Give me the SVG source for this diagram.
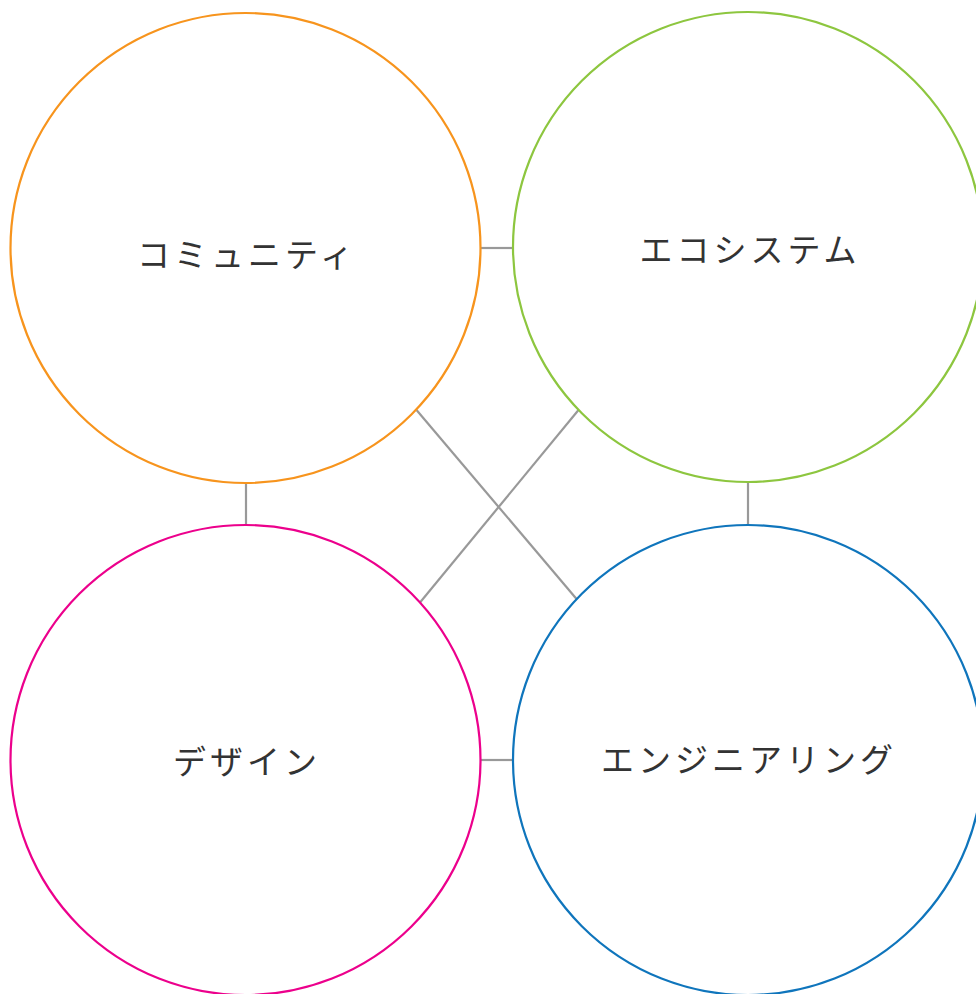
<svg xmlns="http://www.w3.org/2000/svg" width="976" height="994" viewBox="0 0 976 994">
<style>
.c{fill:#fff;stroke-width:2.2}
.l{stroke:#999;stroke-width:2.2;fill:none}
.t{font-family:"Noto Sans CJK JP","Noto Sans",sans-serif;font-size:33px;letter-spacing:4px;fill:#333;text-anchor:middle}
</style>
<rect width="976" height="994" fill="#fff"/>
<g id="connectors">
<line class="l" x1="481" y1="248" x2="513" y2="248"/>
<line class="l" x1="246" y1="483" x2="246" y2="525"/>
<line class="l" x1="748" y1="482" x2="748" y2="525"/>
<line class="l" x1="481" y1="760" x2="513" y2="760"/>
<line class="l" x1="416.5" y1="410" x2="577" y2="599.5"/>
<line class="l" x1="578.5" y1="410" x2="420" y2="602.5"/>
</g>
<g id="community">
<circle class="c" cx="245.5" cy="248" r="235" stroke="#F7941D"/>
<text class="t" x="247" y="267">コミュニティ</text>
</g>
<g id="ecosystem">
<circle class="c" cx="748" cy="247" r="235" stroke="#8DC63F"/>
<text class="t" x="750" y="262">エコシステム</text>
</g>
<g id="design">
<circle class="c" cx="245.5" cy="760" r="235" stroke="#EC008C"/>
<text class="t" x="247" y="774">デザイン</text>
</g>
<g id="engineering">
<circle class="c" cx="748" cy="760" r="235" stroke="#0F75BC"/>
<text class="t" x="749" y="772">エンジニアリング</text>
</g>
</svg>
